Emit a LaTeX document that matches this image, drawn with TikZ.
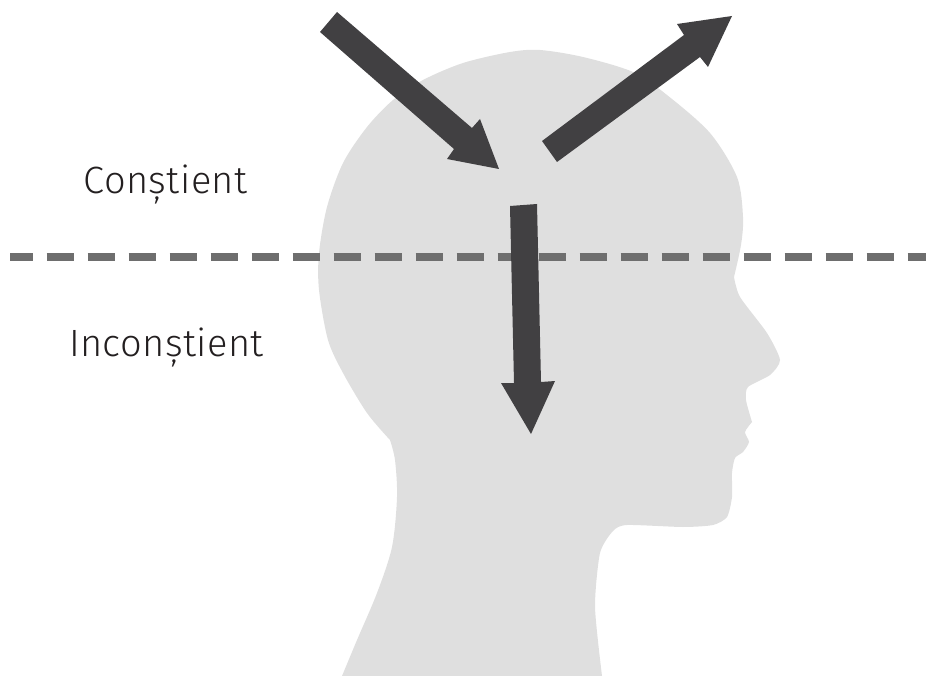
\documentclass[tikz,border=0pt]{standalone}
\usepackage{fontspec}
\setmainfont[LetterSpace=1.1]{Fira Sans Light}
\definecolor{headgray}{HTML}{DFDFDF}
\definecolor{arrowdark}{HTML}{414042}
\definecolor{dashgray}{HTML}{6E6E6E}
\definecolor{labeltext}{HTML}{231F20}
\tikzset{
  headshape/.style={fill=headgray,draw=none},
  bigarrow/.style={fill=arrowdark,draw=none},
  dashline/.style={draw=dashgray,line width=8.5pt,dash pattern=on 27.5pt off 13.5pt,dash phase=4.5pt},
  label text/.style={text=labeltext,font=\fontsize{38}{42}\selectfont,inner sep=0pt,anchor=base}
}
\begin{document}
\begin{tikzpicture}[x=1pt,y=-1pt]
\useasboundingbox (0,0) rectangle (926,676);
\fill[headshape] plot[smooth,tension=0.5] coordinates {
 (342,676) (357,640) (377,593) (392,547) (397,497) (395,460) (390,440)} --
 plot[smooth,tension=0.5] coordinates {(390,440) (367,413) (343,373) (328,340) (319,290) (319,253) (327,207) (343,163) (367,127) (393,100) (423,80) (463,63) (510,52) (540,50) (583,57) (633,72) (667,95) (710,133)
 (737,177) (743,217) (741,245) (734,277)} --
 plot[smooth,tension=0.4] coordinates {(734,277) (740,297) (767,333) (780,360) (770,375) (748,387) (746,400) (752,422)} --
 plot[smooth,tension=0.4] coordinates {(752,422) (745,432) (749,442) (743,452) (735,458) (732,473) (732,497) (727,517) (713,525) (683,527) (627,525) (613,531) (600,553) (595,607) (602,676)} -- cycle;
\coordinate (dashstart) at (10,257);
\coordinate (dashend) at (926,257);
\draw[dashline] (dashstart) -- (dashend);
\fill[bigarrow] (337,12) -- (472,128) -- (480,119) -- (499,169) -- (447,159) -- (454,149) -- (320,32) -- cycle;
\fill[bigarrow] (542,141) -- (684,35) -- (677,24) -- (732,16) -- (708,67) -- (700,57) -- (557,162) -- cycle;
\fill[bigarrow] (510,206) -- (537,204) -- (541,382) -- (555,381) -- (531,434) -- (501,383) -- (514,383) -- cycle;
\node[label text] (constient) at (165.5,194) {Conștient};
\node[label text] (inconstient) at (166.5,356) {Inconștient};
\end{tikzpicture}
\end{document}
